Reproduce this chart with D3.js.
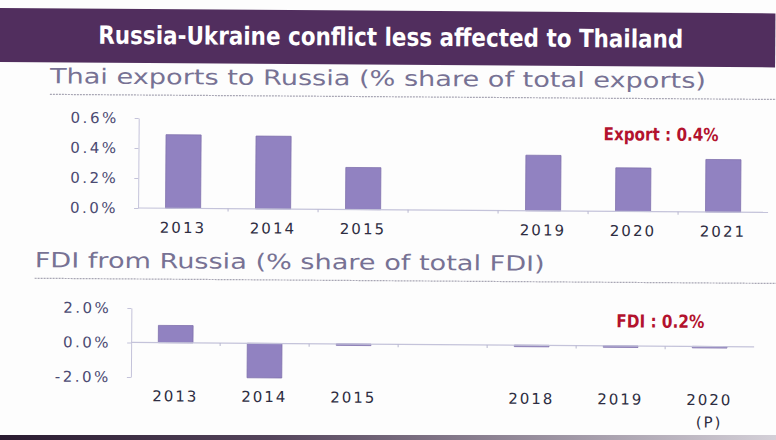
<!DOCTYPE html>
<html>
<head>
    <meta charset="utf-8">
    <style>
        body { margin: 0; background: #fdfdfd; }
        svg { display: block; }
        .tick text { font-family: 'DejaVu Sans', Verdana, sans-serif; }
    </style>
</head>
<body>
<svg width="776" height="440"></svg>

<script src="https://d3js.org/d3.v7.min.js"></script>
<script>
    // export share, % of total Thai exports (blank slot = gap in the original)
    const exportYears = ["2013", "2014", "2015", "", "2019", "2020", "2021"];
    const exportShare = [0.49, 0.485, 0.28, null, 0.37, 0.29, 0.35];
    const exportTicks = [0, 0.2, 0.4, 0.6];

    // FDI from Russia, % of total FDI
    const fdiYears = ["2013", "2014", "2015", "", "2018", "2019", "2020 (P)"];
    const fdiShare = [1.0, -2.0, -0.04, null, -0.05, -0.05, -0.05];
    const fdiTicks = [-2, 0, 2];

    const svg = d3.select("svg");

    const defs = svg.append("defs");
    const grad = defs.append("linearGradient").attr("id", "foot");
    grad.append("stop").attr("offset", "0%").attr("stop-color", "#2a1b30");
    grad.append("stop").attr("offset", "35%").attr("stop-color", "#55455c");
    grad.append("stop").attr("offset", "100%").attr("stop-color", "#d4d0d8");

    // photo is a little tilted
    const g = svg.append("g").attr("transform", "rotate(0.4, 140, 220)");

    // header band
    g.append("rect")
        .attr("x", -10).attr("y", 9)
        .attr("width", 784).attr("height", 54)
        .style("fill", "#512e5e");

    g.append("text")
        .text("Russia-Ukraine conflict less affected to Thailand")
        .attr("x", 97).attr("y", 44)
        .attr("textLength", 585)
        .attr("lengthAdjust", "spacingAndGlyphs")
        .style("font-family", "'Liberation Sans Narrow', 'DejaVu Sans Condensed', sans-serif")
        .style("font-weight", "bold")
        .style("font-size", "25px")
        .style("fill", "#ffffff")

    // section titles
    function sectionTitle(txt, x, y, len) {
        g.append("text")
            .text(txt)
            .attr("x", x).attr("y", y)
            .attr("textLength", len)
            .attr("lengthAdjust", "spacingAndGlyphs")
            .style("font-family", "'DejaVu Sans', Verdana, sans-serif")
            .style("font-size", "21px")
            .style("fill", "#777294")
        g.append("line")
            .attr("x1", x).attr("x2", 790)
            .attr("y1", y + 11).attr("y2", y + 11)
            .style("stroke", "#a8a6b4")
            .style("stroke-width", 1.2)
            .style("stroke-dasharray", "2,1")
    }
    sectionTitle("Thai exports to Russia (% share of total exports)", 49, 84, 656);
    sectionTitle("FDI from Russia (% share of total FDI)", 35, 268, 510);

    function barChart(cats, vals, ticks, opt) {
        let x = d3.scaleBand()
            .domain(cats)
            .range([opt.left, opt.right])
            .paddingInner(0.61)
            .paddingOuter(0.305);

        let y = d3.scaleLinear()
            .domain(opt.domain)
            .range([opt.bottom, opt.top]);

        let data = cats.map((c, i) => ({ cat: c, v: vals[i] })).filter(d => d.v != null);

        g.selectAll(".bar-" + opt.id)
            .data(data)
            .join("rect")
            .attr("class", "bar-" + opt.id)
            .attr("x", d => x(d.cat))
            .attr("width", x.bandwidth())
            .attr("y", d => y(Math.max(0, d.v)))
            .attr("height", d => Math.max(1.5, Math.abs(y(d.v) - y(0))))
            .style("fill", "#9182c1")
            .style("stroke", "#7f71ad")
            .style("stroke-width", 0.8)

        // y axis
        let yAxis = g.append("g")
            .attr("transform", `translate(${opt.left},0)`)
            .call(d3.axisLeft(y)
                .tickValues(ticks)
                .tickFormat(d => d.toFixed(1) + "%")
                .tickSize(4)
                .tickSizeOuter(0)
                .tickPadding(16))
        yAxis.select(".domain").style("stroke", "#c4c3da")
        yAxis.selectAll(".tick line").style("stroke", "#c4c3da")
        yAxis.selectAll(".tick text")
            .style("font-size", "15px")
            .style("letter-spacing", "2.5px")
            .style("fill", "#4b4a72")

        // category axis on the zero line, ticks between the bands
        let y0 = y(0);
        g.append("line")
            .attr("x1", opt.left).attr("x2", opt.right)
            .attr("y1", y0).attr("y2", y0)
            .style("stroke", "#c4c3da")
            .style("stroke-width", 1.2)
        g.selectAll(".sep-" + opt.id)
            .data(cats.slice(1))
            .join("line")
            .attr("class", "sep-" + opt.id)
            .attr("x1", d => x(d) - x.step() * x.paddingInner() / 2)
            .attr("x2", d => x(d) - x.step() * x.paddingInner() / 2)
            .attr("y1", y0).attr("y2", y0 + 3)
            .style("stroke", "#b8b7cf")

        let xAxis = g.append("g")
            .attr("transform", `translate(0,${y0})`)
            .call(d3.axisBottom(x).tickSize(0).tickPadding(opt.labelGap))
        xAxis.select(".domain").remove()
        xAxis.selectAll(".tick text")
            .style("font-size", "15px")
            .style("letter-spacing", "2px")
            .style("fill", "#2e2d42")
            .each(function (d) {
                let parts = d.split(" ");
                if (parts.length > 1) {
                    let t = d3.select(this).text(null);
                    parts.forEach((p, i) => {
                        t.append("tspan")
                            .attr("x", 0)
                            .attr("dy", i == 0 ? "0.71em" : "1.5em")
                            .text(p)
                    })
                }
            })
    }

    barChart(exportYears, exportShare, exportTicks, {
        id: "exp", left: 138, right: 768, top: 118, bottom: 208,
        domain: [0, 0.6], labelGap: 14
    });

    barChart(fdiYears, fdiShare, fdiTicks, {
        id: "fdi", left: 132, right: 755, top: 308, bottom: 377,
        domain: [-2, 2], labelGap: 48
    });

    // red callouts
    function callout(txt, x, y, len) {
        g.append("text")
            .text(txt)
            .attr("x", x).attr("y", y)
            .attr("textLength", len)
            .attr("lengthAdjust", "spacingAndGlyphs")
            .style("font-family", "'Liberation Sans Narrow', 'DejaVu Sans Condensed', sans-serif")
            .style("font-weight", "bold")
            .style("font-size", "18px")
            .style("fill", "#b3122e")
    }
    callout("Export : 0.4%", 603, 137, 115);
    callout("FDI : 0.2%", 617, 324, 88);

    // dark strip at the bottom of the photo
    svg.append("rect")
        .attr("x", 0).attr("y", 435)
        .attr("width", 776).attr("height", 5)
        .style("fill", "url(#foot)")
</script>
</body>
</html>
